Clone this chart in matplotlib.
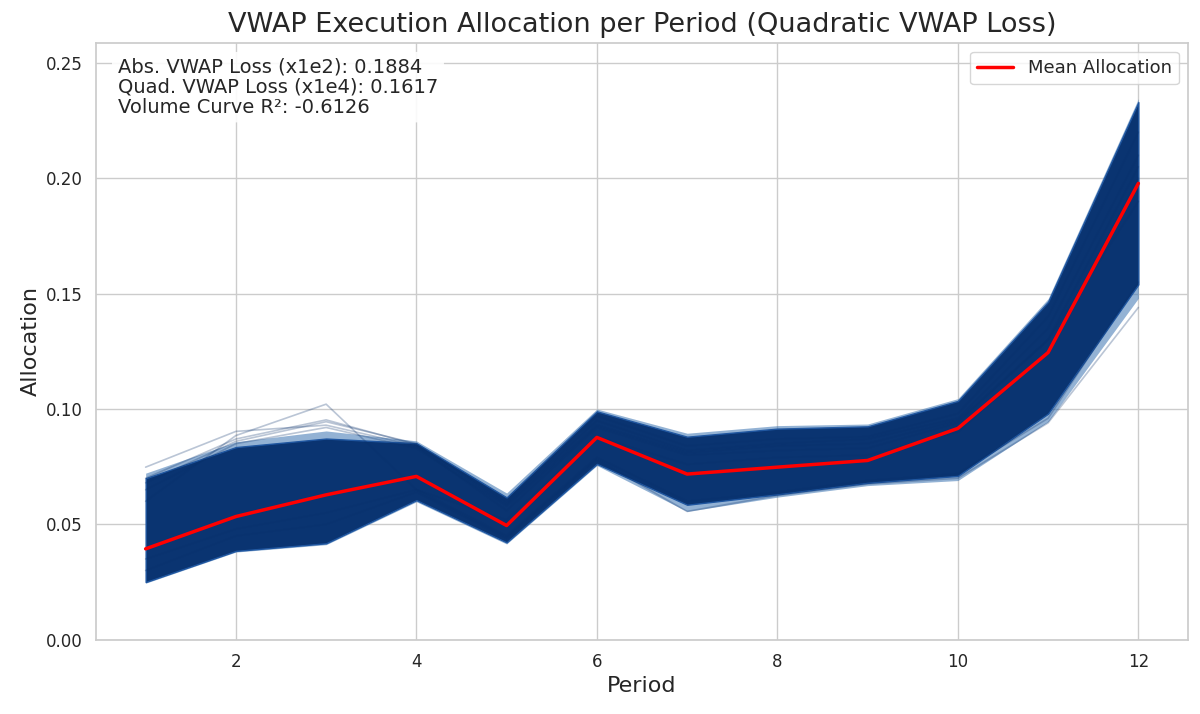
import numpy as np
import matplotlib
matplotlib.use("Agg")
import matplotlib.pyplot as plt
import seaborn as sns

# -----------------------------
# Data
# -----------------------------
periods = np.arange(1, 13)

mean_alloc = [0.0394, 0.0534, 0.0628, 0.0708, 0.0495, 0.0877,
              0.0718, 0.0748, 0.0777, 0.0916, 0.1245, 0.1978]

# dense core of the simulated allocation paths
core_upper = [0.0700, 0.0835, 0.0872, 0.0852, 0.0617, 0.0990,
              0.0880, 0.0915, 0.0925, 0.1035, 0.1465, 0.2330]
core_lower = [0.0250, 0.0385, 0.0418, 0.0605, 0.0422, 0.0762,
              0.0585, 0.0630, 0.0680, 0.0710, 0.0980, 0.1540]

# faint halo around the core
halo_upper = [0.0722, 0.0858, 0.0905, 0.0862, 0.0636, 0.1000,
              0.0895, 0.0928, 0.0935, 0.1045, 0.1478, 0.2345]
halo_lower = [0.0245, 0.0380, 0.0412, 0.0598, 0.0415, 0.0755,
              0.0556, 0.0618, 0.0668, 0.0690, 0.0945, 0.1480]

# individual paths that stick out of the band
outlier_paths = [
    [0.0600, 0.0885, 0.1021, 0.0650, 0.0520, 0.0880, 0.0760, 0.0790, 0.0800, 0.0900, 0.1250, 0.2000],
    [0.0748, 0.0903, 0.0930, 0.0840, 0.0560, 0.0920, 0.0800, 0.0820, 0.0830, 0.0940, 0.1300, 0.1900],
    [0.0700, 0.0870, 0.0953, 0.0845, 0.0590, 0.0950, 0.0820, 0.0850, 0.0870, 0.0960, 0.1350, 0.2100],
    [0.0680, 0.0860, 0.0945, 0.0850, 0.0600, 0.0970, 0.0840, 0.0870, 0.0880, 0.0980, 0.1400, 0.2200],
    [0.0650, 0.0850, 0.0920, 0.0830, 0.0580, 0.0930, 0.0810, 0.0840, 0.0850, 0.0950, 0.1300, 0.2050],
    [0.0300, 0.0450, 0.0500, 0.0640, 0.0440, 0.0780, 0.0556, 0.0625, 0.0675, 0.0700, 0.0940, 0.1440],
    [0.0350, 0.0480, 0.0550, 0.0650, 0.0450, 0.0790, 0.0600, 0.0640, 0.0690, 0.0720, 0.0960, 0.1550],
]

abs_loss = 0.1884
quad_loss = 0.1617
r2 = -0.6126

# -----------------------------
# Plot
# -----------------------------
sns.set_theme(style="whitegrid")
plt.rcParams['font.family'] = ['DejaVu Sans']

fig, ax = plt.subplots(figsize=(12, 7.14), dpi=100)
fig.subplots_adjust(left=0.08, right=0.99, top=0.94, bottom=0.104)

path_color = "#08306b"

ax.fill_between(periods, halo_lower, halo_upper, color="#3b74b2", alpha=0.55, linewidth=0)
ax.fill_between(periods, core_lower, core_upper, color="#0a3471", alpha=1.0,
                edgecolor="#1f56a0", linewidth=1.0)

for path in outlier_paths:
    ax.plot(periods, path, color=path_color, alpha=0.28, linewidth=1.2)

ax.plot(periods, mean_alloc, color="red", linewidth=2.5, label="Mean Allocation")

ax.set_ylim(0, 0.2587)
ax.set_title("VWAP Execution Allocation per Period (Quadratic VWAP Loss)", fontsize=19.5, pad=8)
ax.set_xlabel("Period", fontsize=16)
ax.set_ylabel("Allocation", fontsize=16)
ax.tick_params(labelsize=12)

info = (f"Abs. VWAP Loss (x1e2): {abs_loss:.4f}\n"
        f"Quad. VWAP Loss (x1e4): {quad_loss:.4f}\n"
        f"Volume Curve R\u00b2: {r2:.4f}")
ax.text(0.02, 0.975, info, transform=ax.transAxes, fontsize=14, va="top",
        linespacing=1.06,
        bbox=dict(boxstyle="round,pad=0.3", facecolor="white", edgecolor="none", alpha=0.9))

ax.legend(loc="upper right", fontsize=13)

fig.savefig("out.png", dpi=100)
